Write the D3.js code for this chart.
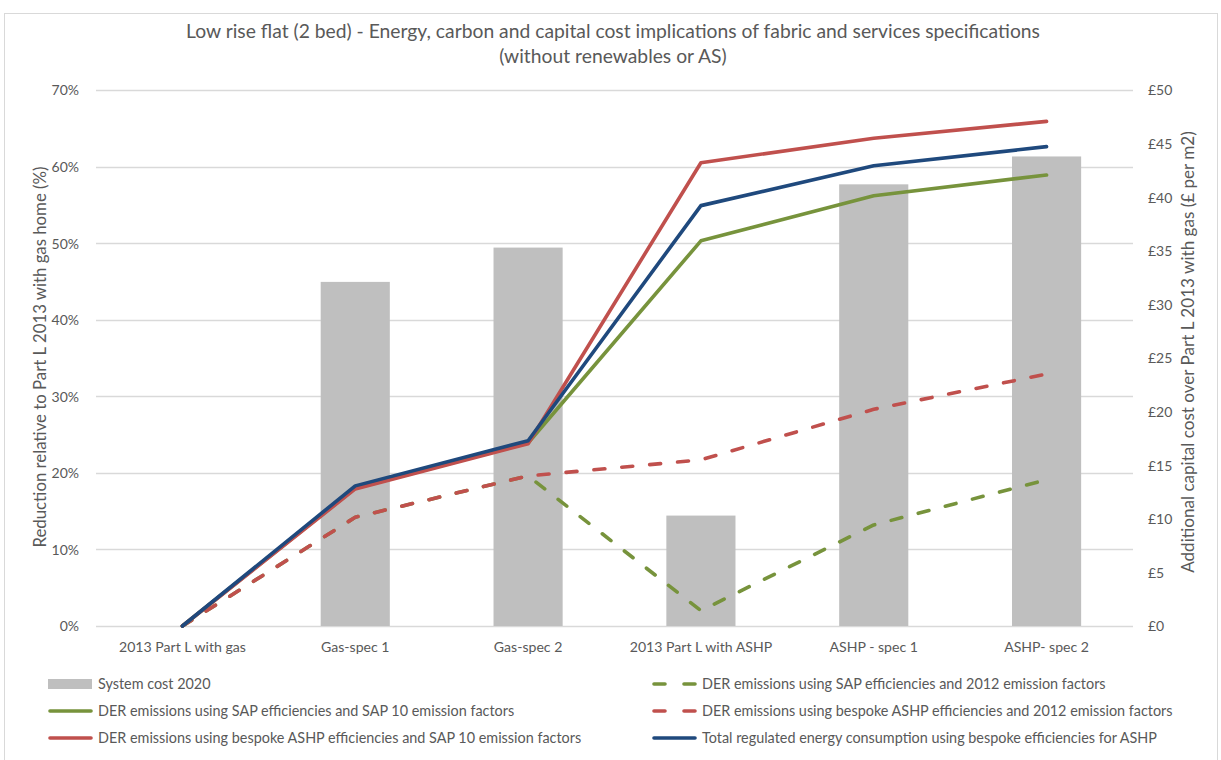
<!DOCTYPE html>
<html lang="en">
<head>
<meta charset="UTF-8">
<title>Low rise flat (2 bed)</title>
<style>
    body { margin: 0; background: #fff; }
    text { font-family: Lato, "Noto Sans", sans-serif; fill: #595959; }
</style>
</head>
<body>
<script src="https://cdn.jsdelivr.net/npm/d3@7/dist/d3.min.js"></script>
<script>
    // categories and values
    const categories = ["2013 Part L with gas", "Gas-spec 1", "Gas-spec 2", "2013 Part L with ASHP", "ASHP - spec 1", "ASHP- spec 2"];
    const systemCost = [0, 32.1, 35.3, 10.3, 41.2, 43.8];              // £ per m2, right axis
    const derSap2012 = [0, 14.2, 19.6, 2.0, 13.2, 19.1];                // %, green dashed
    const derSap10 = [0, 18.0, 23.9, 50.3, 56.2, 58.9];                 // %, green solid
    const derBespoke2012 = [0, 14.2, 19.6, 21.7, 28.3, 32.9];           // %, red dashed
    const derBespokeSap10 = [0, 17.9, 23.8, 60.5, 63.7, 65.9];          // %, red solid
    const totalEnergy = [0, 18.3, 24.2, 54.9, 60.1, 62.6];              // %, blue
    const leftTicks = [0, 0.1, 0.2, 0.3, 0.4, 0.5, 0.6, 0.7];
    const rightTicks = [0, 5, 10, 15, 20, 25, 30, 35, 40, 45, 50];

    const W = 1221, H = 760;
    const m = { t: 90, b: 134, l: 96, r: 88 };
    const dash = '11,17';

    const svg = d3.select('body').append('svg')
        .attr('width', W)
        .attr('height', H);

    // scale a text's font so it takes the width it has in the picture
    function fit(sel, size, width) {
        sel.style('font-size', size + 'px');
        let len = sel.node().getComputedTextLength();
        sel.style('font-size', (size * width / len).toFixed(2) + 'px');
    }

    // chart frame
    svg.append('rect')
        .attr('x', 4.5).attr('y', 13.5)
        .attr('width', 1213).attr('height', 780)
        .attr('fill', 'none')
        .attr('stroke', '#d9d9d9');

    // title
    const title = svg.append('text')
        .attr('text-anchor', 'middle')
        .style('font-size', '19.3px');
    title.append('tspan').attr('x', 613).attr('y', 38)
        .text('Low rise flat (2 bed) - Energy, carbon and capital cost implications of fabric and services specifications');
    title.append('tspan').attr('x', 613).attr('y', 63)
        .text('(without renewables or AS)');

    const x = d3.scaleBand()
        .domain(categories)
        .range([m.l, W - m.r]);
    const y = d3.scaleLinear().domain([0, 0.7]).range([H - m.b, m.t]);
    const y2 = d3.scaleLinear().domain([0, 50]).range([H - m.b, m.t]);

    // gridlines
    svg.append('g').selectAll('line')
        .data(leftTicks)
        .enter().append('line')
        .attr('x1', m.l).attr('x2', W - m.r)
        .attr('y1', d => Math.round(y(d)) + 0.5)
        .attr('y2', d => Math.round(y(d)) + 0.5)
        .attr('stroke', '#d9d9d9')
        .attr('stroke-width', 1.3);

    // left axis
    const ax = svg.append('g')
        .attr('transform', `translate(${m.l - 14},0)`)
        .call(d3.axisLeft(y).tickValues(leftTicks).tickFormat(d3.format('.0%')).tickSize(0));
    ax.select('.domain').remove();
    ax.selectAll('text').style('font-size', '14px').attr('fill', '#595959').attr('dy', '0.35em');

    // right axis
    const ax2 = svg.append('g')
        .attr('transform', `translate(${W - m.r + 12},0)`)
        .call(d3.axisRight(y2).tickValues(rightTicks).tickFormat(d => '£' + d).tickSize(0));
    ax2.select('.domain').remove();
    ax2.selectAll('text').style('font-size', '14px').attr('fill', '#595959').attr('dy', '0.35em');

    // category axis
    const ax3 = svg.append('g')
        .attr('transform', `translate(0,${H - m.b + 12})`)
        .call(d3.axisBottom(x).tickSize(0));
    ax3.select('.domain').remove();
    ax3.selectAll('text').style('font-size', '14.1px').attr('fill', '#595959').attr('dy', '0.75em');

    // axis titles
    const lt = svg.append('text')
        .attr('transform', 'translate(46,357) rotate(-90)')
        .attr('text-anchor', 'middle')
        .text('Reduction relative to Part L 2013 with gas home (%)');
    fit(lt, 15, 381);
    const rt = svg.append('text')
        .attr('transform', 'translate(1194,352) rotate(-90)')
        .attr('text-anchor', 'middle')
        .text('Additional capital cost over Part L 2013 with gas (£ per m2)');
    fit(rt, 15, 442);

    // bars
    const bw = x.bandwidth() * 0.4;
    svg.append('g').selectAll('rect')
        .data(systemCost)
        .enter().append('rect')
        .attr('x', (d, i) => x(categories[i]) + (x.bandwidth() - bw) / 2)
        .attr('y', d => y2(d))
        .attr('width', bw)
        .attr('height', d => y2(0) - y2(d))
        .attr('fill', '#bfbfbf');

    // lines
    const series = [
        { name: 'DER emissions using SAP efficiencies and 2012 emission factors', vals: derSap2012, color: '#77933c', dash: dash },
        { name: 'DER emissions using bespoke ASHP efficiencies and 2012 emission factors', vals: derBespoke2012, color: '#c0504d', dash: dash },
        { name: 'DER emissions using SAP efficiencies and SAP 10 emission factors', vals: derSap10, color: '#77933c', dash: null },
        { name: 'DER emissions using bespoke ASHP efficiencies and SAP 10 emission factors', vals: derBespokeSap10, color: '#c0504d', dash: null },
        { name: 'Total regulated energy consumption using bespoke efficiencies for ASHP', vals: totalEnergy, color: '#1f497d', dash: null }
    ];

    const line = d3.line()
        .x((d, i) => x(categories[i]) + x.bandwidth() / 2)
        .y(d => y(d / 100));

    svg.append('g').selectAll('path')
        .data(series)
        .enter().append('path')
        .attr('d', d => line(d.vals))
        .attr('fill', 'none')
        .attr('stroke', d => d.color)
        .attr('stroke-width', 3.6)
        .attr('stroke-linejoin', 'round')
        .attr('stroke-linecap', 'round')
        .attr('stroke-dasharray', d => d.dash);

    // legend
    const legend = [
        { name: 'System cost 2020', type: 'bar', color: '#bfbfbf', col: 0, row: 0 },
        { name: series[0].name, type: 'line', color: series[0].color, dash: '11,19', col: 1, row: 0 },
        { name: series[2].name, type: 'line', color: series[2].color, col: 0, row: 1 },
        { name: series[1].name, type: 'line', color: series[1].color, dash: '11,19', col: 1, row: 1 },
        { name: series[3].name, type: 'line', color: series[3].color, col: 0, row: 2 },
        { name: series[4].name, type: 'line', color: series[4].color, col: 1, row: 2 }
    ];
    const lg = svg.append('g').selectAll('g')
        .data(legend)
        .enter().append('g')
        .attr('transform', d => `translate(${d.col ? 652 : 48},${684 + d.row * 27})`);
    lg.filter(d => d.type === 'bar').append('rect')
        .attr('x', 0).attr('y', -5).attr('width', 44).attr('height', 10)
        .attr('fill', d => d.color);
    lg.filter(d => d.type === 'line').append('line')
        .attr('x1', 2).attr('x2', 43).attr('y1', 0).attr('y2', 0)
        .attr('stroke', d => d.color)
        .attr('stroke-width', 3.6)
        .attr('stroke-linecap', 'round')
        .attr('stroke-dasharray', d => d.dash || null);
    lg.append('text')
        .attr('x', 50).attr('y', 0).attr('dy', '0.35em')
        .style('font-size', '14.4px')
        .text(d => d.name);
</script>
</body>
</html>
